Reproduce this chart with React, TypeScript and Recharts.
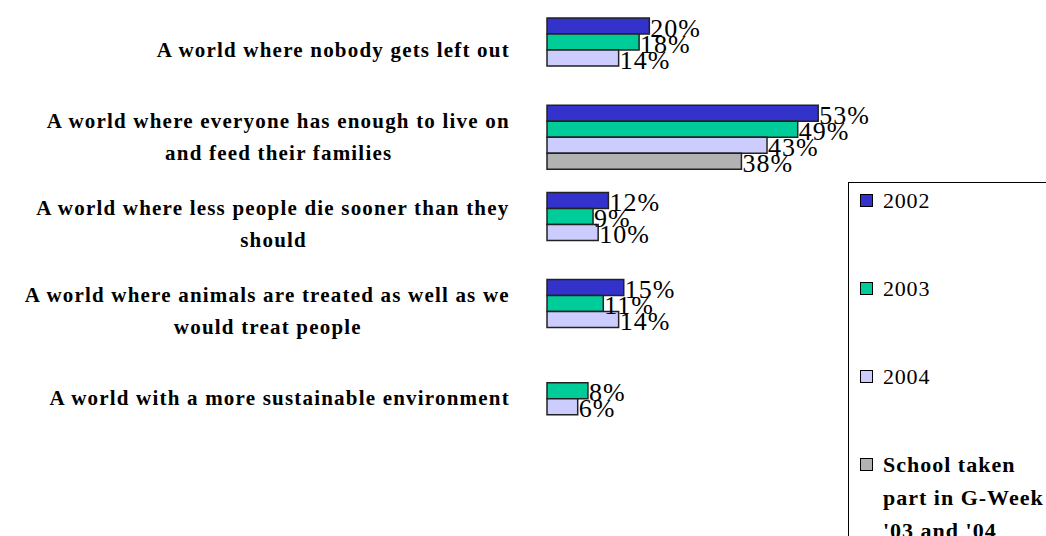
import React from 'react';
import { BarChart, Bar, XAxis, YAxis, LabelList } from 'recharts';

const categories = [
  'A world where nobody gets left out',
  'A world where everyone has enough to live on\nand feed their families',
  'A world where less people die sooner than they\nshould',
  'A world where animals are treated as well as we\nwould treat people',
  'A world with a more sustainable environment',
];
const values2002 = [20, 53, 12, 15, null];
const values2003 = [18, 49, 9, 11, 8];
const values2004 = [14, 43, 10, 14, 6];
const valuesSchool = [null, 38, null, null, null];
const seriesKeys = ['y2002', 'y2003', 'y2004', 'school'];
const seriesNames = ['2002', '2003', '2004', "School taken\npart in G-Week\n'03 and '04"];
const seriesColors = ['#3333CC', '#00CC99', '#CCCCFF', '#B2B2B2'];

const data = categories.map((name, i) => ({
  name,
  y2002: values2002[i],
  y2003: values2003[i],
  y2004: values2004[i],
  school: valuesSchool[i],
}));

const SERIF = "'Liberation Serif', 'Times New Roman', serif";
const CAT_FONT_SIZE = 21;
const CAT_LS = 1.2;
const LABEL_RIGHT = 511;

let ctx: CanvasRenderingContext2D | null = null;
const measure = (s: string) => {
  try {
    if (!ctx) ctx = document.createElement('canvas').getContext('2d');
    if (ctx) {
      ctx.font = `bold ${CAT_FONT_SIZE}px 'Liberation Serif'`;
      return ctx.measureText(s).width + s.length * CAT_LS;
    }
  } catch (e) {}
  return s.length * 11;
};

const CatTick = (props: any) => {
  const { y, payload } = props;
  const lines = String(payload.value).split('\n');
  const maxW = Math.max(...lines.map(measure));
  const lh = 32;
  const y0 = y - ((lines.length - 1) * lh) / 2;
  return (
    <g>
      {lines.map((l, i) => {
        const w = measure(l);
        const left = LABEL_RIGHT - maxW + (maxW - w) / 2;
        return (
          <text
            key={i}
            x={left}
            y={y0 + i * lh}
            textAnchor="start"
            dominantBaseline="central"
            fontFamily={SERIF}
            fontWeight="bold"
            fontSize={CAT_FONT_SIZE}
            letterSpacing={CAT_LS}
            fill="#000"
          >
            {l}
          </text>
        );
      })}
    </g>
  );
};

const ValueLabel = (props: any) => {
  const { x, y, width, height, value } = props;
  if (value == null) return null;
  return (
    <text
      x={Number(x) + Number(width) + 1}
      y={Number(y) + Number(height) / 2 + 2}
      dominantBaseline="central"
      fontFamily={SERIF}
      fontSize={26}
      letterSpacing={1}
      fill="#000"
    >
      {value}%
    </text>
  );
};

const LegendBox = () => (
  <div
    style={{
      position: 'absolute',
      left: 848,
      top: 182,
      width: 210,
      height: 380,
      border: '1px solid #000',
      boxSizing: 'border-box',
      paddingTop: 1,
      paddingLeft: 11,
      fontFamily: SERIF,
      fontSize: 22,
      lineHeight: '34px',
      color: '#000',
      background: '#fff',
    }}
  >
    {seriesNames.map((n, i) => (
      <div key={i} style={{ height: 88, display: 'flex', alignItems: 'flex-start' }}>
        <div
          style={{
            width: 13,
            height: 13,
            marginTop: 10,
            marginRight: 10,
            background: seriesColors[i],
            border: '1px solid #000',
            boxSizing: 'border-box',
            flex: 'none',
          }}
        />
        <div
          style={{
            whiteSpace: 'pre',
            fontWeight: i === 3 ? 'bold' : 'normal',
            letterSpacing: i === 3 ? 1 : 0.8,
            lineHeight: i === 3 ? '33px' : '34px',
          }}
        >
          {n}
        </div>
      </div>
    ))}
  </div>
);

export default function App() {
  return (
    <div style={{ position: 'absolute', left: 0, top: 0, width: 1046, height: 536, background: '#fff', overflow: 'hidden' }}>
      <BarChart
        width={1046}
        height={536}
        data={data}
        layout="vertical"
        margin={{ top: 6, right: 192, bottom: 94, left: 0 }}
        barCategoryGap={12}
        barGap={0}
      >
        <XAxis type="number" domain={[0, 60]} hide />
        <YAxis
          type="category"
          dataKey="name"
          width={547}
          axisLine={false}
          tickLine={false}
          tick={<CatTick />}
          interval={0}
        />
        {seriesKeys.map((k, i) => (
          <Bar
            key={k}
            dataKey={k}
            name={seriesNames[i]}
            fill={seriesColors[i]}
            stroke="#222"
            strokeWidth={1.5}
            isAnimationActive={false}
          >
            <LabelList dataKey={k} content={<ValueLabel />} />
          </Bar>
        ))}
      </BarChart>
      <LegendBox />
    </div>
  );
}
